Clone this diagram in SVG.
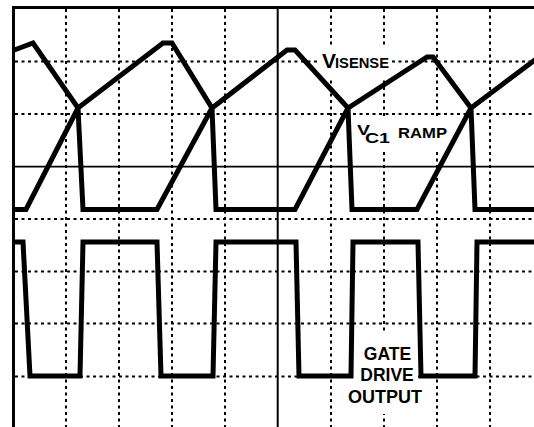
<svg xmlns="http://www.w3.org/2000/svg" width="534" height="427" viewBox="0 0 534 427">
<style>
.grid{stroke:#000;stroke-width:2;stroke-dasharray:3 3.5;fill:none}
.solid{stroke:#000;fill:none}
.wave{stroke:#000;stroke-width:5;fill:none;stroke-linejoin:miter;stroke-miterlimit:3}
.lbl{font-family:"Liberation Sans",Arial,sans-serif;font-weight:bold;fill:#000}
.bg{fill:#fff}
</style>
<rect width="534" height="427" fill="#fff"/>
<g id="grid">
<path class="grid" d="M66 9V427M119 9V427M172 9V427M225 9V427M331 9V427M384 9V427M437 9V427M490 9V427"/>
<path class="grid" d="M15 61.5H534M15 114H534M15 219H534M15 271.5H534M15 323.5H534M15 376.5H534"/>
<path class="solid" stroke-width="1.8" d="M15 166.7H534"/>
<path class="solid" stroke-width="2" d="M277.7 9V427"/>
<path class="solid" stroke-width="3" d="M12 7.5H534M13.5 6V427"/>
</g>
<g id="label-backgrounds">
<rect class="bg" x="318" y="46" width="74" height="34"/>
<rect class="bg" x="352" y="117" width="100" height="33"/>
<rect class="bg" x="344" y="334" width="74" height="80"/>
</g>
<g id="visense-wave">
<path class="wave" d="M13 50.5L33 43L78 108L163 43L172 43L212 108L287 50L295 50L348 108L427 57L433 57L471 108L536 59"/>
</g>
<g id="vc1-ramp">
<path class="wave" d="M13 209.5L26 209.5L78 108L83 209.5L157 209.5L212 108L216 209.5L295 209.5L348 108L352 209.5L417 209.5L471 108L475 209.5L536 209.5"/>
</g>
<g id="gate-drive">
<path class="wave" d="M13 242L23 242L30 376L80 376L83 242L157 242L161 376L213 376L216 242L296 242L299 376L351 376L353 242L418 242L421 376L475 376L477 242L536 242"/>
</g>
<g id="label-visense">
<text class="lbl" x="322" y="68" font-size="21">V</text>
<text class="lbl" x="335" y="68" font-size="15" textLength="54" lengthAdjust="spacingAndGlyphs">ISENSE</text>
</g>
<g id="label-vc1-ramp">
<text class="lbl" x="357" y="135" font-size="14" textLength="13" lengthAdjust="spacingAndGlyphs">V</text>
<text class="lbl" x="365" y="143" font-size="15.5" textLength="25" lengthAdjust="spacingAndGlyphs">C1</text>
<text class="lbl" x="398" y="138" font-size="14" textLength="49" lengthAdjust="spacingAndGlyphs">RAMP</text>
</g>
<g id="label-gate-drive" text-anchor="middle">
<text class="lbl" x="387.5" y="360" font-size="17.5">GATE</text>
<text class="lbl" x="387" y="380.5" font-size="17.5">DRIVE</text>
<text class="lbl" x="385" y="403" font-size="17.5" textLength="74" lengthAdjust="spacingAndGlyphs">OUTPUT</text>
</g>
</svg>
